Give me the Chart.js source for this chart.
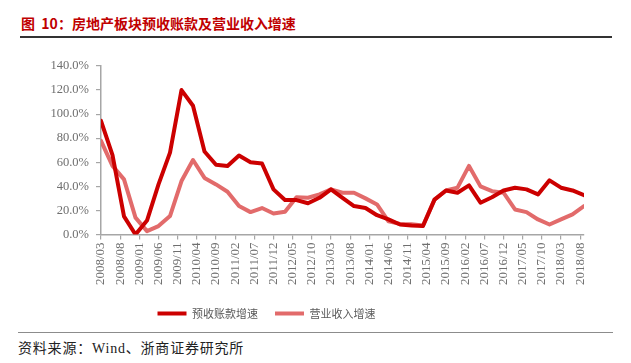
<!DOCTYPE html>
<html>
<head>
<meta charset="utf-8">
<script src="https://cdn.jsdelivr.net/npm/chart.js@4.4.1/dist/chart.umd.min.js"></script>
<style>
  html, body { margin: 0; padding: 0; background: #fff; overflow: hidden; }
  body { width: 631px; height: 363px; position: relative; font-family: "Liberation Serif", "Noto Sans CJK SC", serif; }
  .title {
    position: absolute; left: 21px; top: 14px;
    font-family: "Noto Sans CJK SC", sans-serif; font-weight: bold; font-size: 14px;
    color: #c00000; line-height: 18px; white-space: nowrap;
  }
  .rule-top { position: absolute; left: 20px; width: 592px; top: 36px; height: 2px; background: #333; }
  .rule-bottom { position: absolute; left: 18px; width: 595px; top: 332px; height: 1px; background: #8c8c8c; }
  .source {
    position: absolute; left: 18px; top: 340px; font-size: 14px; line-height: 18px;
    letter-spacing: 0.8px; color: #222; white-space: nowrap;
  }
  .chart-box { position: absolute; left: -51px; top: 40px; width: 682px; height: 289px; }
</style>
</head>
<body>
<div class="title">图&nbsp;&nbsp;10：房地产板块预收账款及营业收入增速</div>
<div class="rule-top"></div>
<div class="chart-box"><canvas id="chart" width="682" height="289"></canvas></div>
<div class="rule-bottom"></div>
<div class="source">资料来源：Wind、浙商证券研究所</div>

<script>
const ctx = document.getElementById('chart').getContext('2d');

// quarterly observations
const quarters = [
  '2008/03', '2008/06', '2008/09', '2008/12',
  '2009/03', '2009/06', '2009/09', '2009/12',
  '2010/03', '2010/06', '2010/09', '2010/12',
  '2011/03', '2011/06', '2011/09', '2011/12',
  '2012/03', '2012/06', '2012/09', '2012/12',
  '2013/03', '2013/06', '2013/09', '2013/12',
  '2014/03', '2014/06', '2014/09', '2014/12',
  '2015/03', '2015/06', '2015/09', '2015/12',
  '2016/03', '2016/06', '2016/09', '2016/12',
  '2017/03', '2017/06', '2017/09', '2017/12',
  '2018/03', '2018/06', '2018/09'
];

// 预收账款增速 (%)
const advanceGrowth = [
  94.4, 66, 15, 0,
  11.6, 41.6, 68, 120,
  107, 69, 58, 57,
  65.6, 60, 59, 37.5,
  28.6, 28.6, 26, 30.5,
  37.5, 30.5, 23.6, 22,
  16, 12.5, 8.3, 7.5,
  7, 29, 36.6, 34.7,
  40.8, 26.4, 31, 36.6,
  38.9, 37.5, 33.3, 45,
  38.9, 36.6, 32.7
];

// 营业收入增速 (%)
const revenueGrowth = [
  77.8, 57, 45.8, 14,
  2.8, 7, 15.3, 44.4,
  61.9, 47, 41.6, 35.5,
  23.6, 18.6, 22, 17.5,
  18.9, 31, 30.5, 33.3,
  37.5, 34.7, 34.7, 30,
  25, 11, 8.8, 8.5,
  7.5, 29, 36.6, 38.9,
  57, 40, 36, 34.7,
  20.8, 18.6, 12.5, 8.3,
  12.5, 16.7, 23.6
];

const xTickLabels = [
  '2008/03', '2008/08', '2009/01', '2009/06', '2009/11', '2010/04', '2010/09',
  '2011/02', '2011/07', '2011/12', '2012/05', '2012/10', '2013/03', '2013/08',
  '2014/01', '2014/06', '2014/11', '2015/04', '2015/09', '2016/02', '2016/07',
  '2016/12', '2017/05', '2017/10', '2018/03', '2018/08'
];

const yTicks = [0, 20, 40, 60, 80, 100, 120, 140];


// months since 2008/03
function monthIndex(label) {
  const [y, m] = label.split('/').map(Number);
  return (y - 2008) * 12 + (m - 3);
}

function labelForMonth(idx) {
  const total = 2008 * 12 + 2 + idx;
  const y = Math.floor(total / 12);
  const m = String(total % 12 + 1).padStart(2, '0');
  return `${y}/${m}`;
}

function toPoints(values) {
  return quarters.map((q, i) => ({ x: monthIndex(q), y: values[i] }));
}

const axisGray = '#a6a6a6';
const labelGray = '#6f6f6f';

const chart = new Chart(ctx, {
  type: 'line',
  data: {
    datasets: [{
      label: '预收账款增速',
      data: toPoints(advanceGrowth),
      borderColor: '#cc0000',
      backgroundColor: '#cc0000',
      borderWidth: 4,
      borderCapStyle: 'round',
      borderJoinStyle: 'round',
      pointRadius: 0,
      tension: 0,
    }, {
      label: '营业收入增速',
      data: toPoints(revenueGrowth),
      borderColor: '#e26b6b',
      backgroundColor: '#e26b6b',
      borderWidth: 4,
      borderCapStyle: 'round',
      borderJoinStyle: 'round',
      pointRadius: 0,
      tension: 0,
    }],
  },
  options: {
    responsive: false,
    animation: false,
    layout: { padding: { left: 0, right: 47, top: 26, bottom: 0 } },
    scales: {
      x: {
        type: 'linear',
        min: 0,
        max: monthIndex('2018/09'),
        afterBuildTicks: (scale) => {
          scale.ticks = xTickLabels.map(l => ({ value: monthIndex(l) }));
        },
        afterFit: (scale) => { scale.height = 56.5; },
        ticks: {
          autoSkip: false,
          minRotation: 90,
          maxRotation: 90,
          padding: 3,
          color: labelGray,
          font: { family: '"Liberation Serif", serif', size: 13 },
          callback: (v) => labelForMonth(v),
        },
        grid: {
          drawOnChartArea: false,
          drawTicks: true,
          tickLength: 5,
          color: axisGray,
          lineWidth: 1.2,
        },
        border: { color: axisGray, width: 1.5 },
      },
      y: {
        min: 0,
        max: 140,
        afterBuildTicks: (scale) => {
          scale.ticks = yTicks.map(v => ({ value: v }));
        },
        afterFit: (scale) => { scale.width = 152; },
        ticks: {
          padding: 7,
          color: labelGray,
          font: { family: '"Liberation Serif", serif', size: 12.5 },
          callback: (v) => v.toFixed(1) + '%',
        },
        grid: {
          drawOnChartArea: false,
          drawTicks: true,
          tickLength: 5,
          color: axisGray,
          lineWidth: 1.2,
        },
        border: { color: axisGray, width: 1.5 },
      },
    },
    plugins: {
      legend: {
        position: 'bottom',
        labels: {
          usePointStyle: true,
          pointStyle: 'line',
          pointStyleWidth: 29,
          padding: 17,
          color: '#595959',
          font: { family: '"Noto Sans CJK SC", sans-serif', size: 11 },
        },
      },
      tooltip: { enabled: false },
    },
  },
});
</script>
</body>
</html>
